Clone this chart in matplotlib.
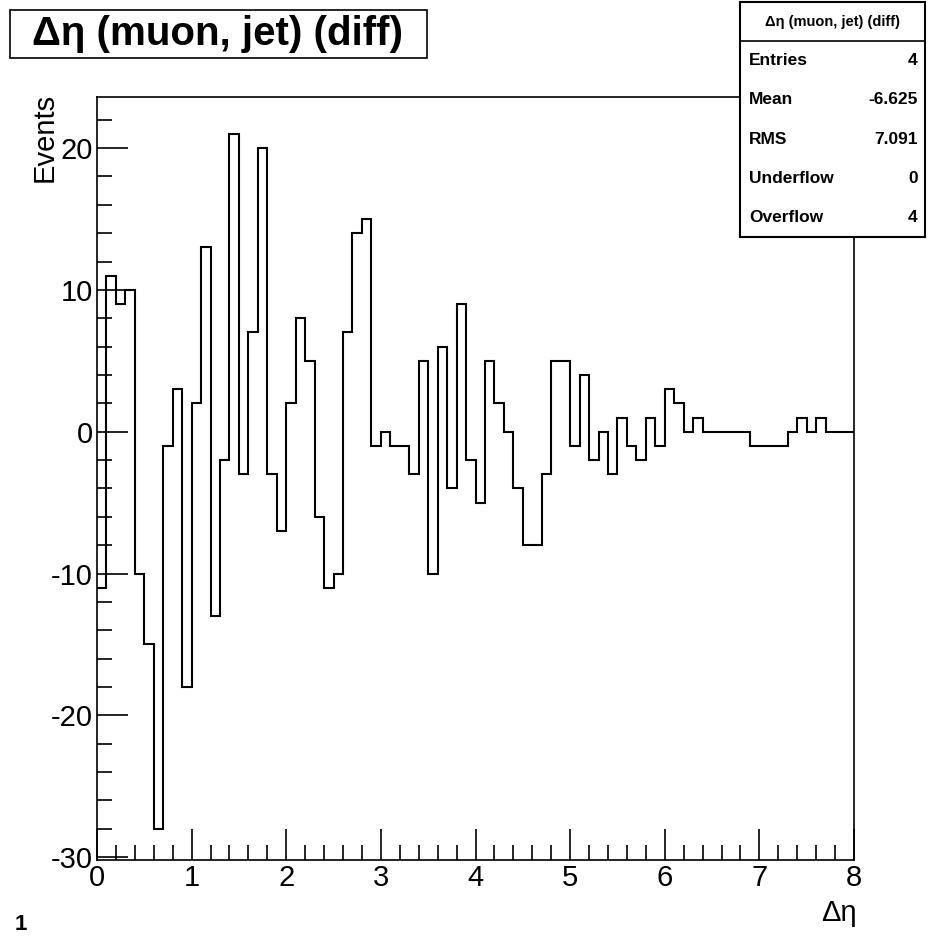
import numpy as np
import matplotlib
matplotlib.use("Agg")
import matplotlib.pyplot as plt
from matplotlib.ticker import MultipleLocator
from matplotlib.patches import Rectangle

plt.rcParams['font.family'] = ['Liberation Sans', 'DejaVu Sans']
plt.rcParams['axes.unicode_minus'] = False

bin_edges_lo = 0.0
bin_width = 0.1
counts = [-11, 11, 9, 10, -10, -15, -28, -1, 3, -18,
          2, 13, -13, -2, 21, -3, 7, 20, -3, -7,
          2, 8, 5, -6, -11, -10, 7, 14, 15, -1,
          0, -1, -1, -3, 5, -10, 6, -4, 9, -2,
          -5, 5, 2, 0, -4, -8, -8, -3, 5, 5,
          -1, 4, -2, 0, -3, 1, -1, -2, 1, -1,
          3, 2, 0, 1, 0, 0, 0, 0, 0, -1,
          -1, -1, -1, 0, 1, 0, 1, 0, 0, 0]
stats_labels = ["Entries", "Mean", "RMS", "Underflow", "Overflow"]
stats_values = ["4", "-6.625", "7.091", "0", "4"]

W, H = 941, 936
fig = plt.figure(figsize=(W / 100, H / 100), dpi=100)
ax = fig.add_axes([97 / W, 1 - 860 / H, (854 - 97) / W, (860 - 97) / H])

edges = bin_edges_lo + bin_width * np.arange(len(counts) + 1)
ax.stairs(counts, edges, color="black", lw=1.5, baseline=None)

ax.set_xlim(0, 8)
ax.set_ylim(-30.2, 23.6)
ax.xaxis.set_major_locator(MultipleLocator(1))
ax.xaxis.set_minor_locator(MultipleLocator(0.2))
ax.yaxis.set_major_locator(MultipleLocator(10))
ax.yaxis.set_minor_locator(MultipleLocator(2))
ax.tick_params(which="both", direction="in", top=False, right=False,
               labelsize=21, width=1.2)
ax.tick_params(which="major", length=22, pad=3)
ax.tick_params(which="minor", length=11)
for s in ax.spines.values():
    s.set_linewidth(1.2)

fig.text(45 / W, 1 - 93 / H, "Events", rotation=90, fontsize=21,
         ha="center", va="top")
fig.text(857 / W, 1 - 913 / H, "Δη", fontsize=21, ha="right", va="center")
fig.text(15 / W, 1 - 925 / H, "1", fontsize=16, fontweight="bold",
         ha="left", va="center")

# title box
fig.patches.append(Rectangle((10 / W, 1 - 58 / H), 417 / W, 48 / H,
                             transform=fig.transFigure, fc="white",
                             ec="black", lw=1.2))
fig.text(218 / W, 1 - 34 / H, "Δη (muon, jet) (diff)", fontsize=29,
         fontweight="bold", ha="center", va="center")

# stats box
bx0, bx1, by0, by1 = 740, 925, 2, 237
sax = fig.add_axes([bx0 / W, 1 - by1 / H, (bx1 - bx0) / W, (by1 - by0) / H])
sax.set_xlim(0, 1)
sax.set_ylim(0, 1)
sax.set_xticks([])
sax.set_yticks([])
for s in sax.spines.values():
    s.set_linewidth(1.5)
n = len(stats_labels) + 1
sax.axhline(1 - 1 / n, color="black", lw=1.2)
sax.text(0.5, 1 - 0.5 / n, "Δη (muon, jet) (diff)", fontsize=10.5,
         fontweight="bold", ha="center", va="center")
for i, (lab, val) in enumerate(zip(stats_labels, stats_values)):
    y = 1 - (i + 1.5) / n
    sax.text(0.05, y, lab, fontsize=12.5, fontweight="bold", ha="left", va="center")
    sax.text(0.96, y, val, fontsize=12.5, fontweight="bold", ha="right", va="center")

fig.savefig("out.png", dpi=100)
